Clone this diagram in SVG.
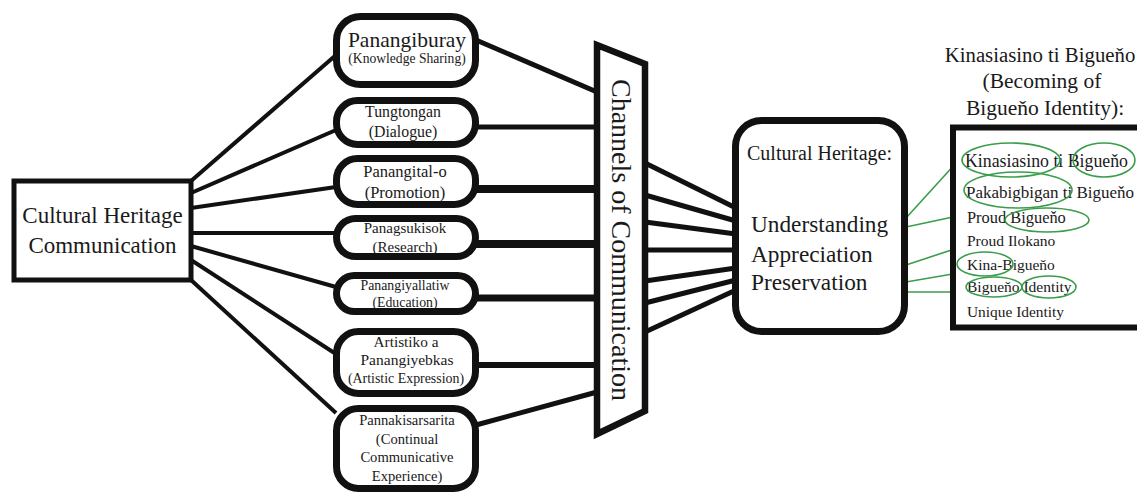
<svg xmlns="http://www.w3.org/2000/svg" width="1137" height="493" viewBox="0 0 1137 493">
<style>
text{font-family:"Liberation Serif","Times New Roman",serif;fill:#1a1a1a}
.c{text-anchor:middle}
.blk{fill:none;stroke:#111;stroke-linecap:butt}
.node{fill:#fff;stroke:#111}
.g{fill:none;stroke:#3a9d4a;stroke-width:1.6}
</style>
<rect width="1137" height="493" fill="#fff"/>
<g id="connectors">
  <g class="blk" stroke-width="4">
    <line x1="191" y1="181" x2="336" y2="55"/>
    <line x1="191" y1="193" x2="336" y2="130"/>
    <line x1="191" y1="208" x2="336" y2="187"/>
    <line x1="191" y1="233" x2="336" y2="233"/>
    <line x1="191" y1="246" x2="336" y2="287"/>
    <line x1="191" y1="260" x2="336" y2="354"/>
    <line x1="191" y1="280" x2="336" y2="413"/>
  </g>
  <g class="blk">
    <line x1="476" y1="40" x2="597" y2="92" stroke-width="5"/>
    <line x1="476" y1="127" x2="597" y2="127" stroke-width="5"/>
    <line x1="476" y1="189" x2="597" y2="189" stroke-width="8"/>
    <line x1="476" y1="244" x2="597" y2="244" stroke-width="8"/>
    <line x1="476" y1="298" x2="597" y2="298" stroke-width="7"/>
    <line x1="476" y1="365" x2="597" y2="365" stroke-width="6"/>
    <line x1="476" y1="425" x2="597" y2="392" stroke-width="5"/>
  </g>
  <g class="blk" stroke-width="5">
    <line x1="645" y1="163" x2="736" y2="208"/>
    <line x1="645" y1="195" x2="736" y2="221"/>
    <line x1="645" y1="222" x2="736" y2="234"/>
    <line x1="645" y1="250" x2="736" y2="250"/>
    <line x1="645" y1="281" x2="736" y2="268"/>
    <line x1="645" y1="303" x2="736" y2="280"/>
    <line x1="645" y1="332" x2="736" y2="290"/>
  </g>
  <g class="g">
    <line x1="906" y1="218" x2="966" y2="152"/>
    <line x1="906" y1="227" x2="1000" y2="207"/>
    <line x1="906" y1="265" x2="1012" y2="230"/>
    <line x1="906" y1="282" x2="976" y2="270"/>
    <line x1="906" y1="292" x2="966" y2="292"/>
  </g>
</g>
<g id="source">
  <rect class="node" x="14" y="181" width="177" height="99" stroke-width="5"/>
  <text class="c" x="102.5" y="223" font-size="23">Cultural Heritage</text>
  <text class="c" x="102.5" y="253" font-size="23">Communication</text>
</g>
<g id="n1">
  <rect class="node" x="336.5" y="16.5" width="139" height="68" rx="24" stroke-width="7"/>
  <text class="c" x="407" y="47" font-size="21.5">Panangiburay</text>
  <text class="c" x="407" y="63" font-size="13.6">(Knowledge Sharing)</text>
</g>
<g id="n2">
  <rect class="node" x="336.5" y="100.5" width="139" height="44" rx="21" stroke-width="7"/>
  <text class="c" x="403" y="117" font-size="15.8">Tungtongan</text>
  <text class="c" x="403" y="137" font-size="15.8">(Dialogue)</text>
</g>
<g id="n3">
  <rect class="node" x="336.5" y="158.5" width="139" height="46" rx="21" stroke-width="7"/>
  <text class="c" x="405" y="177" font-size="16.5">Panangital-o</text>
  <text class="c" x="405" y="198" font-size="16.5">(Promotion)</text>
</g>
<g id="n4">
  <rect class="node" x="336.5" y="218.5" width="139" height="38" rx="19" stroke-width="7"/>
  <text class="c" x="405" y="233" font-size="15">Panagsukisok</text>
  <text class="c" x="405" y="252" font-size="15">(Research)</text>
</g>
<g id="n5">
  <rect class="node" x="336.5" y="275.5" width="139" height="36" rx="18" stroke-width="7"/>
  <text class="c" x="405" y="290" font-size="13.8">Panangiyallatiw</text>
  <text class="c" x="405" y="307" font-size="13.8">(Education)</text>
</g>
<g id="n6">
  <rect class="node" x="336.5" y="331.5" width="139" height="62" rx="22" stroke-width="7"/>
  <text class="c" x="406" y="347" font-size="15.3">Artistiko a</text>
  <text class="c" x="407" y="365" font-size="15.5">Panangiyebkas</text>
  <text class="c" x="406" y="383" font-size="13.9">(Artistic Expression)</text>
</g>
<g id="n7">
  <rect class="node" x="336.5" y="408.5" width="139" height="80" rx="22" stroke-width="7"/>
  <text class="c" x="407" y="425" font-size="14.6">Pannakisarsarita</text>
  <text class="c" x="407" y="444" font-size="14.6">(Continual</text>
  <text class="c" x="407" y="462" font-size="14.6">Communicative</text>
  <text class="c" x="407" y="481" font-size="14.6">Experience)</text>
</g>
<g id="channels">
  <polygon class="node" points="597,45 645,64 645,411 597,434" stroke-width="6.5" stroke-linejoin="miter"/>
  <text class="c" transform="translate(612,240) rotate(90)" font-size="28">Channels of Communication</text>
</g>
<g id="heritage">
  <rect class="node" x="735.5" y="120.5" width="169" height="211" rx="26" stroke-width="7"/>
  <text x="747" y="160" font-size="20">Cultural Heritage:</text>
  <text x="751" y="232" font-size="23.3">Understanding</text>
  <text x="751" y="262" font-size="23.3">Appreciation</text>
  <text x="751" y="290" font-size="23.3">Preservation</text>
</g>
<g id="identity">
  <text class="c" x="1040" y="62" font-size="20.8">Kinasiasino ti Bigueňo</text>
  <text class="c" x="1042" y="88" font-size="21.5">(Becoming of</text>
  <text class="c" x="1045" y="115" font-size="21.5">Bigueňo Identity):</text>
  <rect class="node" x="953" y="127.5" width="200" height="200" stroke-width="6"/>
  <text x="965" y="167" font-size="17.8">Kinasiasino ti Bigueňo</text>
  <text x="966" y="198" font-size="17">Pakabigbigan ti Bigueňo</text>
  <text x="967" y="223" font-size="16.4">Proud Bigueňo</text>
  <text x="967" y="246" font-size="15.5">Proud Ilokano</text>
  <text x="967" y="270" font-size="15.5">Kina-Bigueňo</text>
  <text x="967" y="292" font-size="15.5">Bigueňo Identity</text>
  <text x="967" y="317" font-size="15.4">Unique Identity</text>
  <g class="g">
    <ellipse cx="1011" cy="160" rx="49" ry="17"/>
    <ellipse cx="1104" cy="160" rx="31" ry="17"/>
    <ellipse cx="1018" cy="190" rx="54" ry="18"/>
    <ellipse cx="1047" cy="220" rx="42" ry="12"/>
    <ellipse cx="985" cy="264" rx="28" ry="12"/>
    <ellipse cx="994" cy="287" rx="28" ry="10"/>
    <ellipse cx="1049" cy="287" rx="27" ry="11"/>
  </g>
</g>
</svg>
